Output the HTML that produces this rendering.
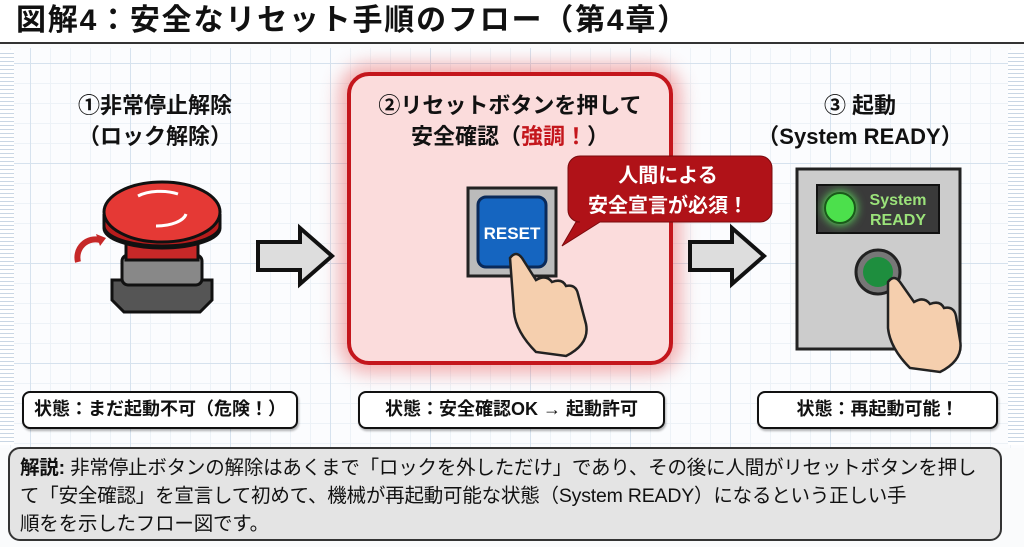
<!DOCTYPE html>
<html><head><meta charset="utf-8"><style>
*{margin:0;padding:0;box-sizing:border-box}
body{width:1024px;height:547px;overflow:hidden;background:#fafbfc;font-family:"Liberation Sans","Noto Sans CJK JP",sans-serif;position:relative;color:#111}
.abs{position:absolute}
.grid{left:0;top:48px;width:1024px;height:400px;background-color:#fbfcfe;
background-image:linear-gradient(#d6e2ee 1px,transparent 1px),linear-gradient(90deg,#d6e2ee 1px,transparent 1px),linear-gradient(#edf2f7 1px,transparent 1px),linear-gradient(90deg,#edf2f7 1px,transparent 1px);
background-size:100px 100px,100px 100px,20px 20px,20px 20px;background-position:30px 15px}
.t{font-weight:bold;text-align:center;font-size:22px;line-height:31px}
.st{border:2.5px solid #111;border-radius:8px;background:#fff;font-weight:bold;font-size:18px;text-align:center;line-height:32px;height:38px;box-shadow:1px 2px 2px rgba(0,0,0,.3)}
</style></head><body>
<div class="abs" style="left:0;top:0;width:1024px;height:44px;background:#fff"></div>
<div class="abs" style="left:16px;top:2px;font-size:30px;font-weight:bold;line-height:38px;letter-spacing:1.8px">図解4：安全なリセット手順のフロー（第4章）</div>
<div class="abs" style="left:0;top:42px;width:1024px;height:2px;background:#333"></div>
<div class="abs grid"></div>
<div class="abs" style="left:0;top:50px;width:14px;height:395px;background:repeating-linear-gradient(#fff 0 3px,#c9d6e4 3px 4px)"></div>
<div class="abs" style="left:1008px;top:50px;width:16px;height:395px;background:repeating-linear-gradient(#fff 0 3px,#c9d6e4 3px 4px)"></div>

<div class="abs" style="left:347px;top:72px;width:326px;height:293px;border:4px solid #c4161c;border-radius:22px;background:#fbdcdc;box-shadow:0 0 18px 8px rgba(230,80,80,.45)"></div>

<div class="abs t" style="left:40px;top:90px;width:230px">①非常停止解除<br>（ロック解除）</div>
<div class="abs t" style="left:360px;top:90px;width:300px">②リセットボタンを押して<br>安全確認（<span style="color:#c4161c">強調！</span>）</div>
<div class="abs t" style="left:740px;top:90px;width:240px">③ 起動<br>（System READY）</div>

<svg class="abs" style="left:0;top:0" width="1024" height="547">
<path d="M112 280 h100 v20 l-12 12 h-76 l-12 -12z" fill="#555" stroke="#111" stroke-width="3"/>
<rect x="122" y="255" width="80" height="30" rx="6" fill="#888" stroke="#111" stroke-width="3"/>
<rect x="126" y="225" width="72" height="35" fill="#c62828" stroke="#111" stroke-width="3"/>
<ellipse cx="162" cy="228" rx="58" ry="20" fill="#a51d1d" stroke="#111" stroke-width="3"/>
<path d="M104 214 v12 a58 20 0 0 0 116 0 v-12" fill="#b71c1c" stroke="#111" stroke-width="3"/>
<ellipse cx="162" cy="212" rx="58" ry="30" fill="#e53935" stroke="#111" stroke-width="3"/>
<path d="M138 196 a30 14 0 0 1 40 -2" stroke="#fff" stroke-width="3" fill="none"/>
<path d="M186 214 a30 14 0 0 1 -30 12" stroke="#fff" stroke-width="3" fill="none"/>
<path d="M78 262 a18 18 0 0 1 22 -22" stroke="#c62828" stroke-width="6" fill="none"/>
<path d="M96 234 l10 4 l-6 8z" fill="#c62828"/>
<path d="M258 242 h42 v-14 l32 28 l-32 28 v-14 h-42z" fill="#ddd" stroke="#111" stroke-width="4"/>
<path d="M690 242 h42 v-14 l32 28 l-32 28 v-14 h-42z" fill="#ddd" stroke="#111" stroke-width="4"/>
<rect x="468" y="188" width="88" height="88" fill="#bbb" stroke="#222" stroke-width="3"/>
<rect x="478" y="197" width="68" height="70" rx="8" fill="#1565c0" stroke="#0a2a5a" stroke-width="3"/>
<text x="512" y="239" font-size="17" font-weight="bold" fill="#fff" text-anchor="middle" font-family="Liberation Sans">RESET</text>
<path d="M510 258 q6 -8 12 0 l14 22 q10 -6 16 2 q10 -4 14 4 q10 -2 12 8 l8 30 q4 20 -20 32 l-30 -4 q-20 -20 -22 -40z" fill="#f5cfae" stroke="#222" stroke-width="2.5"/>
<path d="M580 156 h180 a12 12 0 0 1 12 12 v42 a12 12 0 0 1 -12 12 h-160 l-38 24 l14 -24 h4 a12 12 0 0 1 -12 -12 v-42 a12 12 0 0 1 12 -12z" fill="#b01218" stroke="#7a0a0d" stroke-width="1"/>
<text x="668" y="182" font-size="20" font-weight="bold" fill="#fff" text-anchor="middle" font-family="Liberation Sans,Noto Sans CJK JP">人間による</text>
<text x="668" y="212" font-size="20" font-weight="bold" fill="#fff" text-anchor="middle" font-family="Liberation Sans,Noto Sans CJK JP">安全宣言が必須！</text>
<rect x="797" y="169" width="163" height="180" fill="#ccc" stroke="#222" stroke-width="3"/>
<rect x="817" y="185" width="122" height="48" fill="#3a3a3a" stroke="#111" stroke-width="2"/>
<circle cx="840" cy="208" r="15" fill="#4ce04c" stroke="#1a5a1a" stroke-width="2" style="filter:drop-shadow(0 0 5px #6f6)"/>
<text x="898" y="205" font-size="16" font-weight="bold" fill="#9be27a" text-anchor="middle" font-family="Liberation Sans">System</text>
<text x="898" y="225" font-size="16" font-weight="bold" fill="#9be27a" text-anchor="middle" font-family="Liberation Sans">READY</text>
<circle cx="878" cy="272" r="22" fill="#777" stroke="#222" stroke-width="3"/>
<circle cx="878" cy="272" r="15" fill="#1e8e3e"/>
<path d="M888 282 q6 -8 12 0 l14 20 q10 -6 16 2 q10 -4 14 4 q10 -2 12 8 l4 24 q4 20 -20 32 l-30 -4 q-20 -20 -22 -40z" fill="#f5cfae" stroke="#222" stroke-width="2.5"/>
</svg>

<div class="abs st" style="left:22px;top:391px;width:276px">状態：まだ起動不可（危険！）</div>
<div class="abs st" style="left:358px;top:391px;width:307px">状態：安全確認OK → 起動許可</div>
<div class="abs st" style="left:757px;top:391px;width:241px">状態：再起動可能！</div>

<div class="abs" style="left:8px;top:447px;width:994px;height:94px;border:2px solid #333;border-radius:12px;background:#e4e4e4;padding:5px 10px;font-size:19.5px;line-height:28px;letter-spacing:-0.2px;white-space:nowrap">
<b>解説:</b> 非常停止ボタンの解除はあくまで「ロックを外しただけ」であり、その後に人間がリセットボタンを押し<br>て「安全確認」を宣言して初めて、機械が再起動可能な状態（System READY）になるという正しい手<br>順をを示したフロー図です。</div>
</body></html>
